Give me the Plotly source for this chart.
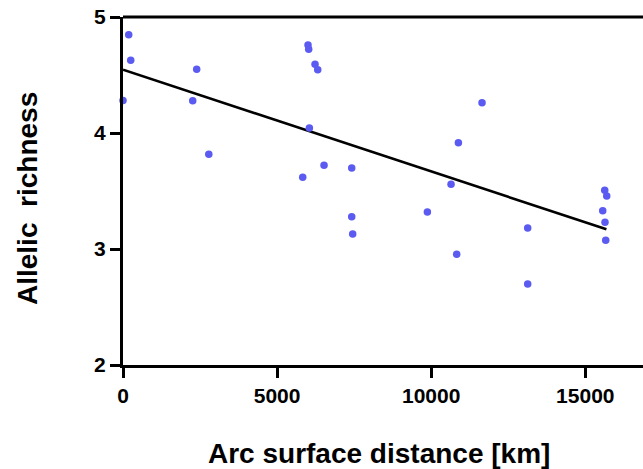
import plotly.graph_objects as go

distance_km = [185, 250, 0, 2391, 2262, 2784, 6003, 6025, 6231, 6318, 6047, 5831, 6523, 7421,
               11649, 10882, 10644, 7421, 7453, 9876, 13131, 10827, 13131,
               15630, 15695, 15565, 15639, 15662]
allelic_richness = [4.847, 4.627, 4.28, 4.549, 4.279, 3.816, 4.759, 4.722, 4.592, 4.546, 4.043, 3.618, 3.721, 3.698,
                    4.261, 3.917, 3.558, 3.279, 3.129, 3.319, 3.181, 2.954, 2.698,
                    3.506, 3.457, 3.330, 3.230, 3.075]

fit_x = [0, 15685]
fit_y = [4.546, 3.170]

x_ticks = [0, 5000, 10000, 15000]
y_ticks = [2, 3, 4, 5]

x_title = "Arc surface distance [km]"
y_title = "Allelic  richness"

font_family = "Liberation Sans, Arial, sans-serif"

fig = go.Figure()
fig.add_trace(go.Scatter(x=fit_x, y=fit_y, mode="lines",
                         line=dict(color="black", width=2.6), showlegend=False, hoverinfo="skip"))
fig.add_trace(go.Scatter(x=distance_km, y=allelic_richness, mode="markers",
                         marker=dict(color="#5b5bf2", size=7.5, line=dict(width=0)),
                         showlegend=False, cliponaxis=False))

# top frame line
fig.add_shape(type="line", xref="paper", yref="paper", x0=0, x1=1, y0=1, y1=1,
              line=dict(color="black", width=3))

fig.add_annotation(text="<b>" + x_title + "</b>", xref="paper", yref="paper",
                   x=0.492, y=-0.2557, xanchor="center", yanchor="middle", showarrow=False,
                   font=dict(size=28, family=font_family, color="black"))
fig.add_annotation(text="<b>" + y_title.replace("  ", "&nbsp; ") + "</b>", xref="paper", yref="paper",
                   x=-0.1846, y=0.477, xanchor="center", yanchor="middle", showarrow=False,
                   textangle=-90,
                   font=dict(size=28, family=font_family, color="black"))

fig.update_layout(
    width=643, height=469,
    margin=dict(l=123, r=0, t=17, b=104, autoexpand=False),
    paper_bgcolor="white", plot_bgcolor="white",
    font=dict(family=font_family, color="black"),
)
fig.update_xaxes(
    range=[0, 16872], tickvals=x_ticks, ticktext=[str(v) for v in x_ticks],
    showgrid=False, zeroline=False, showline=True, linecolor="black", linewidth=3,
    ticks="outside", ticklen=10, tickwidth=2.5, tickcolor="black", automargin=False,
    tickfont=dict(size=21, family=font_family, color="black", weight="bold"),
)
fig.update_yaxes(
    range=[2, 5], tickvals=y_ticks, ticktext=[str(v) for v in y_ticks],
    showgrid=False, zeroline=False, showline=True, linecolor="black", linewidth=3,
    ticks="outside", ticklen=10, tickwidth=2.5, tickcolor="black", automargin=False,
    tickfont=dict(size=21, family=font_family, color="black", weight="bold"),
)

fig.write_html("out.html", config={"displayModeBar": False},
               post_script="document.body.style.margin='0';document.body.style.padding='0';document.body.style.overflow='hidden';")
